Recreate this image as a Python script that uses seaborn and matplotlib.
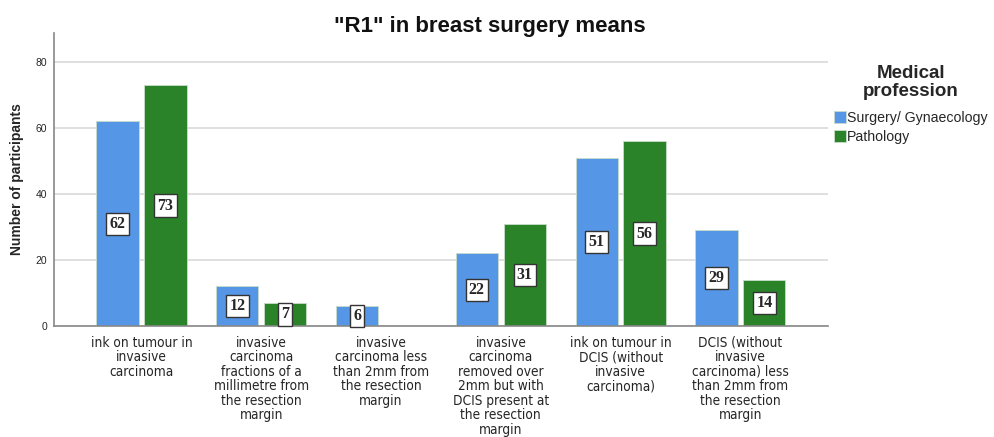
import matplotlib
matplotlib.use("Agg")
import matplotlib.pyplot as plt
import seaborn as sns
import pandas as pd

categories = [
    "ink on tumour in\ninvasive\ncarcinoma",
    "invasive\ncarcinoma\nfractions of a\nmillimetre from\nthe resection\nmargin",
    "invasive\ncarcinoma less\nthan 2mm from\nthe resection\nmargin",
    "invasive\ncarcinoma\nremoved over\n2mm but with\nDCIS present at\nthe resection\nmargin",
    "ink on tumour in\nDCIS (without\ninvasive\ncarcinoma)",
    "DCIS (without\ninvasive\ncarcinoma) less\nthan 2mm from\nthe resection\nmargin",
]
professions = ["Surgery/ Gynaecology", "Pathology"]
surgery = [62, 12, 6, 22, 51, 29]
pathology = [73, 7, 0, 31, 56, 14]

df = pd.DataFrame({
    "category": categories * 2,
    "profession": [professions[0]] * 6 + [professions[1]] * 6,
    "count": surgery + pathology,
})

sns.set_style("white")
plt.rcParams["font.family"] = ["Liberation Sans", "DejaVu Sans"]

fig = plt.figure(figsize=(9.95, 4.37), dpi=100)
ax = fig.add_axes([0.0543, 0.254, 0.7777, 0.6705])

palette = {professions[0]: "#5596E6", professions[1]: "#2A8229"}
sns.barplot(data=df, x="category", y="count", hue="profession",
            hue_order=professions, order=categories, palette=palette,
            width=0.8, gap=0.12, saturation=1, edgecolor="#c9dcc9",
            linewidth=0.6, ax=ax, legend=True)

ax.set_ylim(0, 88.8)
ax.set_xlim(-0.73, 5.73)
ax.set_yticks([0, 20, 40, 60, 80])
ax.yaxis.grid(True, color="#d9d9d9", linewidth=1.2)
ax.set_axisbelow(True)
for s in ["top", "right"]:
    ax.spines[s].set_visible(False)
for s in ["left", "bottom"]:
    ax.spines[s].set_color("#888888")
    ax.spines[s].set_linewidth(1.2)
ax.tick_params(axis="y", labelsize=7.5, length=0, pad=5)
ax.tick_params(axis="x", length=0, pad=7)
for lbl in ax.get_xticklabels():
    lbl.set_family(["DejaVu Sans"])
    lbl.set_fontstretch("condensed")
    lbl.set_fontsize(9.8)
    lbl.set_linespacing(1.05)
ax.set_xlabel("")
ax.set_ylabel("Number of participants", fontsize=10, fontweight="bold", labelpad=8)

# chart title, centred over the whole figure
fig.text(0.492, 1 - 32 / 437, '"R1" in breast surgery means', ha="center",
         va="baseline", fontsize=16, fontweight="bold", color="#111111")

# value labels in boxed serif text at bar mid-height
for container in ax.containers:
    for bar in container:
        h = bar.get_height()
        if h <= 0:
            continue
        ax.text(bar.get_x() + bar.get_width() / 2, h / 2, f"{int(round(h))}",
                ha="center", va="center", fontsize=11.5, fontweight="bold",
                family=["Liberation Serif", "DejaVu Serif"],
                bbox=dict(boxstyle="square,pad=0.2", fc="white",
                          ec="#333333", lw=1.0))

leg = ax.legend(title="Medical\nprofession", loc="upper left",
                bbox_to_anchor=(0.995, 0.925), frameon=False, fontsize=10.2,
                handlelength=0.85, handleheight=1.0, handletextpad=0.05,
                borderaxespad=0.3, labelspacing=0.35)
leg.get_title().set_fontweight("bold")
leg.get_title().set_fontsize(13.5)
leg.get_title().set_multialignment("center")
leg.get_title().set_linespacing(1.05)
leg._legend_box.align = "center"
leg._legend_box.sep = 8

fig.savefig("out.png", dpi=100)
